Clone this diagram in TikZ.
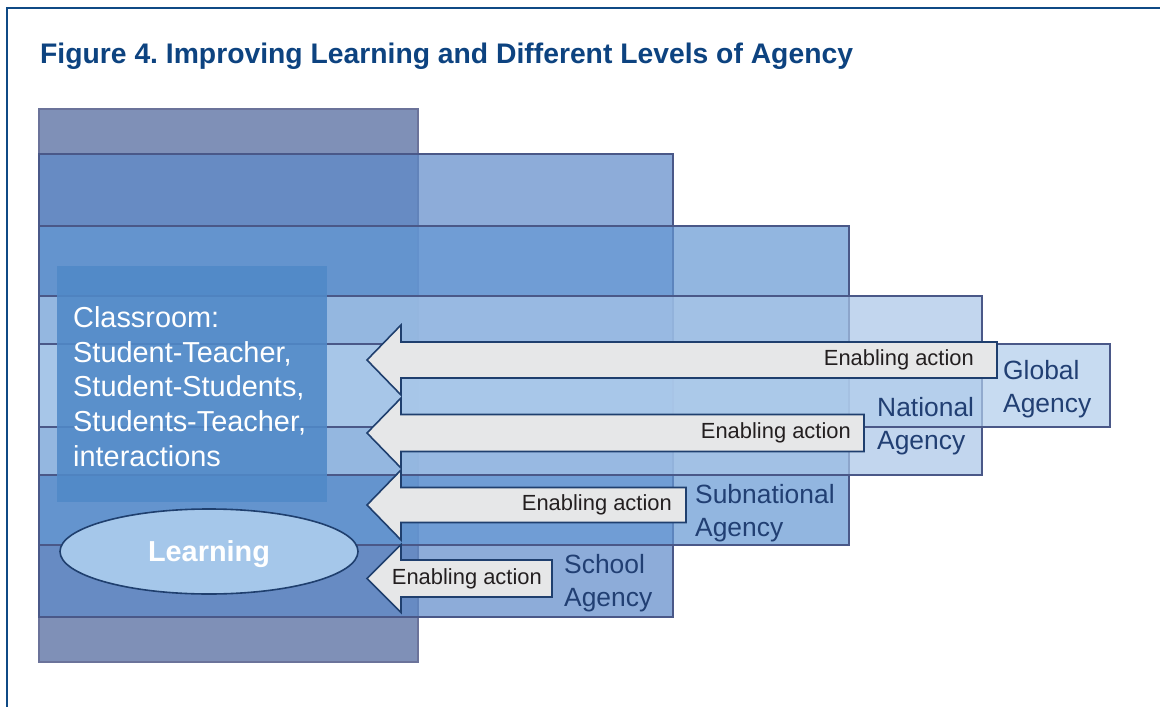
\documentclass[tikz,border=0pt]{standalone}
\usepackage{fontspec}
\setmainfont{Liberation Sans}
\usetikzlibrary{shapes.geometric}
\frenchspacing
\definecolor{frameblue}{HTML}{0F4A85}
\definecolor{titleblue}{HTML}{0D4380}
\definecolor{aFill}{HTML}{7F90B7}
\definecolor{aLine}{HTML}{6B739A}
\definecolor{bFill}{RGB}{94,138,201}
\definecolor{cFill}{RGB}{100,152,212}
\definecolor{dFill}{RGB}{169,198,232}
\definecolor{eFill}{RGB}{176,205,236}
\definecolor{rLine}{HTML}{4A5888}
\definecolor{classFill}{RGB}{80,137,200}
\definecolor{arrowLine}{HTML}{1F3F6E}
\definecolor{arrowFill}{HTML}{E6E7E8}
\definecolor{agencyText}{HTML}{213F73}
\definecolor{learnFill}{HTML}{A5C7EA}
\definecolor{enText}{HTML}{231F20}
\newcommand\enablearrow[4]{%
  \draw[blockarrow] (367,#1) -- (401,{#1-#4}) -- (401,{#1-#3}) -- (#2,{#1-#3})
    -- (#2,{#1+#3}) -- (401,{#1+#3}) -- (401,{#1+#4}) -- cycle;}
\begin{document}
\begin{tikzpicture}[x=1bp,y=-1bp,
  level/.style={draw=rLine,line width=1.1bp,fill opacity=0.7},
  blockarrow/.style={draw=arrowLine,fill=arrowFill,line width=1.6bp,line join=miter},
  enabling/.style={inner sep=0pt,anchor=east,text=enText,font=\fontsize{22}{26}\selectfont},
  agency/.style={inner sep=0pt,anchor=north west,align=left,text=agencyText,font=\fontsize{26.5}{33}\selectfont},
]
\useasboundingbox (0,0) rectangle (1160,707);
\fill[white] (0,0) rectangle (1160,707);
\draw[frameblue,line width=2.2bp] (7,707) -- (7,8) -- (1160,8);

\node[anchor=base west,inner sep=0pt,text=titleblue,font=\fontsize{28.4}{34}\selectfont\bfseries] (title) at (40,64) {Figure 4. Improving Learning and Different Levels of Agency};

% nested levels
\draw[level,draw=aLine,fill=aFill,fill opacity=1] (39,109) rectangle (418,662);
\draw[level,fill=bFill] (39,154) rectangle (673,617);
\draw[level,fill=cFill] (39,226) rectangle (849,545);
\draw[level,fill=dFill] (39,296) rectangle (982,475);
\draw[level,fill=eFill] (39,344) rectangle (1110,427);

% classroom box
\fill[classFill,fill opacity=0.88] (57,266) rectangle (327,502);
\node[anchor=north west,inner sep=0pt,align=left,text=white,font=\fontsize{29}{35}\selectfont] (classtext) at (73,306) {Classroom:\\Student-Teacher,\\Student-Students,\\Students-Teacher,\\interactions};

% enabling arrows
\enablearrow{360}{997}{18}{35}
\node[enabling] (ea1) at (974,360) {Enabling action};
\enablearrow{433}{864}{18.5}{35}
\node[enabling] (ea2) at (851,433) {Enabling action};
\enablearrow{505}{686}{17.5}{35}
\node[enabling] (ea3) at (672,505) {Enabling action};
\enablearrow{578.5}{552}{18.5}{34}
\node[enabling] (ea4) at (542,578.5) {Enabling action};

% agency labels
\node[agency] (global) at (1003,360) {Global\\Agency};
\node[agency] (national) at (877,397) {National\\Agency};
\node[agency] (subnational) at (695,484) {Subnational\\Agency};
\node[agency] (school) at (564,554) {School\\Agency};

% learning
\node[ellipse,draw=arrowLine,line width=1.6bp,fill=learnFill,minimum width=298bp,minimum height=85bp,inner sep=0pt,text=white,font=\fontsize{29}{35}\selectfont\bfseries,text depth=0pt] (learning) at (209,551.5) {Learning};
\end{tikzpicture}
\end{document}
